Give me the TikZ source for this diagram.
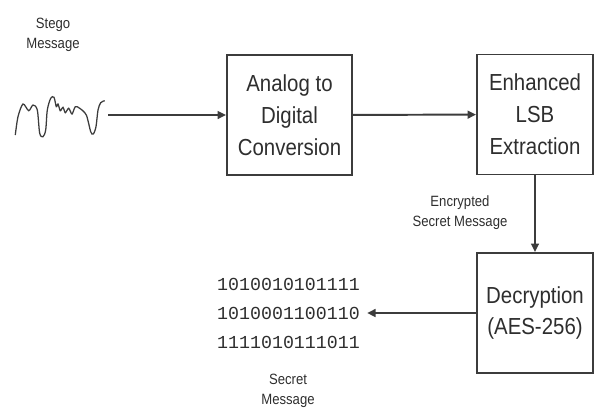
\documentclass[tikz,border=0pt]{standalone}
\usepackage{fontspec}
\setmainfont{Liberation Sans}
\newfontfamily\narrowfont[FakeStretch=0.88]{Liberation Sans}
\setmonofont{Liberation Mono}
\usetikzlibrary{arrows.meta}

\definecolor{linegray}{HTML}{3C3C3C}
\definecolor{textgray}{HTML}{2E2E2E}

\tikzset{
    stage/.style={draw=linegray, line width=1.3pt, minimum width=125*0.025cm,
        minimum height=120*0.025cm, align=center, text=textgray,
        font=\narrowfont\fontsize{16.5}{22.7}\selectfont},
    caption/.style={align=center, text=textgray,
        font=\narrowfont\fontsize{10.6}{14.2}\selectfont},
    bits/.style={align=left, text=textgray, inner xsep=5pt, inner ysep=2pt,
        font=\ttfamily\fontsize{13}{20.6}\selectfont},
    flow/.style={draw=linegray, line width=1.4pt,
        -{Triangle[length=6pt,width=5.5pt]}}
}

\begin{document}
\begin{tikzpicture}[x=0.025cm, y=-0.025cm]
    \useasboundingbox (0,0) rectangle (594,410);

    % processing blocks
    \node[stage] (adc) at (289.5,115) {Analog to\\Digital\\Conversion};
    \node[stage, minimum width=116*0.025cm] (lsb) at (535,114.5) {Enhanced\\LSB\\Extraction};
    \node[stage, minimum width=116*0.025cm] (dec) at (535,313) {Decryption\\(AES-256)};

    % stego signal
    \draw[linegray, line width=0.9pt] plot[smooth, tension=0.5] coordinates {
        (15.3,135) (18,116.7) (23,104) (28.7,110.7) (33,105) (37.3,110)
        (39.7,133.3) (43,136.7) (45.7,130) (47.3,110) (50.7,98.3) (54,97.3)
        (56.3,106.7) (58,104) (60.3,110.7) (63,107.3) (65.3,112.7) (68.7,108.3)
        (72,114) (75.3,106.7) (79.7,108.3) (86.3,115) (90.7,131.7) (93.3,134)
        (96,126.7) (98,110) (100.7,102.7) (104.7,100.7)};
    \coordinate (wave) at (108,115);

    % secret message bits
    \node[bits] (msg) at (288.5,313) {1010010101111\\1010001100110\\1111010111011};

    % captions
    \node[caption] (stego) at (53,35) {Stego\\Message};
    \node[caption] (enc) at (460,213) {Encrypted\\Secret Message};
    \node[caption] (secret) at (288,391) {Secret\\Message};

    % connectors
    \draw[flow] (wave) -- (adc);
    \draw[flow] (adc) -- (lsb);
    \draw[flow] (lsb) -- (dec);
    \draw[flow] (dec) -- (msg);
\end{tikzpicture}
\end{document}
